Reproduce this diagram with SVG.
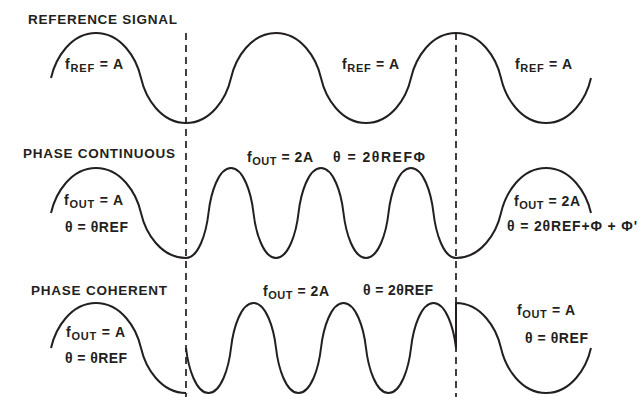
<svg xmlns="http://www.w3.org/2000/svg" width="641" height="397" viewBox="0 0 641 397">
<style>
.bg{fill:#fff}
.wave{fill:none;stroke:#231f20;stroke-width:2;stroke-linejoin:round}
.dash{fill:none;stroke:#231f20;stroke-width:1.7;stroke-dasharray:7 5}
text{font-family:"Liberation Sans",Arial,sans-serif;font-weight:bold;fill:#231f20;font-size:14px}
.t{font-size:13.5px}
.sub{font-size:11px}
</style>
<rect class="bg" x="0" y="0" width="641" height="397"/>
<g id="connectors">
<line class="dash" x1="186" y1="33" x2="186" y2="397"/>
<line class="dash" x1="456" y1="33" x2="456" y2="397"/>
</g>
<g id="reference-signal">
<path class="wave" d="M51 78 c4.5 -20 20 -45 45 -45 c25 0 40.5 25 45 45 c4.5 20 20 45 45 45 c25 0 40.5 -25 45 -45 c4.5 -20 20 -45 45 -45 c25 0 40.5 25 45 45 c4.5 20 20 45 45 45 c25 0 40.5 -25 45 -45 c4.5 -20 20 -45 45 -45 c25 0 40.5 25 45 45 c4.5 20 20 45 45 45 c25 0 40.5 -25 45 -45"/>
<text class="t" x="28" y="24" textLength="149" lengthAdjust="spacing">REFERENCE SIGNAL</text>
<text x="65" y="69" textLength="58" lengthAdjust="spacing">f<tspan class="sub" dy="3">REF</tspan><tspan dy="-3"> = A</tspan></text>
<text x="342" y="69" textLength="57" lengthAdjust="spacing">f<tspan class="sub" dy="3">REF</tspan><tspan dy="-3"> = A</tspan></text>
<text x="515" y="69" textLength="57" lengthAdjust="spacing">f<tspan class="sub" dy="3">REF</tspan><tspan dy="-3"> = A</tspan></text>
</g>
<g id="phase-continuous">
<path class="wave" d="M51 213 c4.5 -20 20 -45 45 -45 c25 0 40.5 25 45 45 c4.5 20 20 45 45 45 c12.5 0 20.25 -25 22.5 -45 c2.25 -20 10 -45 22.5 -45 c12.5 0 20.25 25 22.5 45 c2.25 20 10 45 22.5 45 c12.5 0 20.25 -25 22.5 -45 c2.25 -20 10 -45 22.5 -45 c12.5 0 20.25 25 22.5 45 c2.25 20 10 45 22.5 45 c12.5 0 20.25 -25 22.5 -45 c2.25 -20 10 -45 22.5 -45 c12.5 0 20.25 25 22.5 45 c2.25 20 10 45 22.5 45 c25 0 40.5 -25 45 -45 c4.5 -20 20 -45 45 -45 c25 0 40.5 25 45 45"/>
<text class="t" x="23" y="158" textLength="152" lengthAdjust="spacing">PHASE CONTINUOUS</text>
<text x="64" y="205" textLength="59" lengthAdjust="spacing">f<tspan class="sub" dy="3">OUT</tspan><tspan dy="-3"> = A</tspan></text>
<text x="65" y="232" textLength="63" lengthAdjust="spacing">θ = θREF</text>
<text x="247" y="162" textLength="66" lengthAdjust="spacing">f<tspan class="sub" dy="3">OUT</tspan><tspan dy="-3"> = 2A</tspan></text>
<text x="333" y="162" textLength="92" lengthAdjust="spacing">θ = 2θREFΦ</text>
<text x="514" y="206" textLength="66" lengthAdjust="spacing">f<tspan class="sub" dy="3">OUT</tspan><tspan dy="-3"> = 2A</tspan></text>
<text x="507" y="231" textLength="130" lengthAdjust="spacing">θ = 2θREF+Φ + Φ'</text>
</g>
<g id="phase-coherent">
<path class="wave" d="M51 348 c4.5 -20 20 -45 45 -45 c25 0 40.5 25 45 45 c4.5 20 20 45 45 45 M186 348 c2.25 20 10 45 22.5 45 c12.5 0 20.25 -25 22.5 -45 c2.25 -20 10 -45 22.5 -45 c12.5 0 20.25 25 22.5 45 c2.25 20 10 45 22.5 45 c12.5 0 20.25 -25 22.5 -45 c2.25 -20 10 -45 22.5 -45 c12.5 0 20.25 25 22.5 45 c2.25 20 10 45 22.5 45 c12.5 0 20.25 -25 22.5 -45 c2.25 -20 10 -45 22.5 -45 c12.5 0 20.25 25 22.5 45 L456 303 c25 0 40.5 25 45 45 c4.5 20 20 45 45 45 c25 0 40.5 -25 45 -45"/>
<text class="t" x="31" y="295" textLength="136" lengthAdjust="spacing">PHASE COHERENT</text>
<text x="66" y="337" textLength="59" lengthAdjust="spacing">f<tspan class="sub" dy="3">OUT</tspan><tspan dy="-3"> = A</tspan></text>
<text x="65" y="363" textLength="62" lengthAdjust="spacing">θ = θREF</text>
<text x="263" y="296" textLength="66" lengthAdjust="spacing">f<tspan class="sub" dy="3">OUT</tspan><tspan dy="-3"> = 2A</tspan></text>
<text x="363" y="295" textLength="70" lengthAdjust="spacing">θ = 2θREF</text>
<text x="517" y="315" textLength="58" lengthAdjust="spacing">f<tspan class="sub" dy="3">OUT</tspan><tspan dy="-3"> = A</tspan></text>
<text x="525" y="343" textLength="63" lengthAdjust="spacing">θ = θREF</text>
</g>
</svg>
